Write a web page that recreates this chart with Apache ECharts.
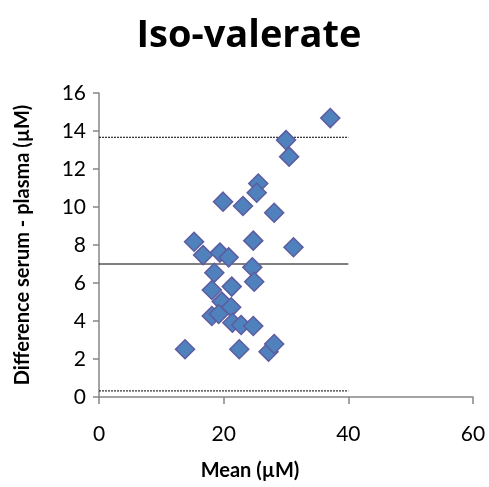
<!DOCTYPE html>
<html><head><meta charset="utf-8">
<script src="https://cdn.jsdelivr.net/npm/echarts@6/dist/echarts.min.js"></script>
<style>html,body{margin:0;padding:0;background:#fff}#c{width:489px;height:487px}</style>
</head><body><div id="c"></div>
<script>
const meanX = [37.1, 30.0, 30.5, 25.55, 25.3, 19.9, 23.1, 28.1,
  15.25, 24.75, 31.2, 16.7, 19.4, 20.8, 24.6, 18.5, 24.9, 18.1, 21.3, 19.7,
  21.2, 18.1, 19.2, 21.4, 22.8, 24.75, 13.8, 22.5, 27.2, 28.1];
const diffY = [14.68, 13.52, 12.65, 11.24, 10.75, 10.28, 10.05, 9.7,
  8.17, 8.23, 7.88, 7.47, 7.6, 7.35, 6.83, 6.54, 6.07, 5.63, 5.81, 5.02,
  4.72, 4.26, 4.37, 3.91, 3.79, 3.74, 2.51, 2.51, 2.38, 2.79];
const lineX = [0, 40];
const upperLimit = 13.67;
const meanDiff = 7.0;
const lowerLimit = 0.32;
const xTicks = [0, 20, 40, 60];
const yTicks = [0, 2, 4, 6, 8, 10, 12, 14, 16];

const font = 'Lato, "Open Sans", sans-serif';
const chart = echarts.init(document.getElementById('c'), null, {renderer: 'canvas'});
const hline = (v, type) => ({
  type: 'line', data: lineX.map(x => [x, v]), symbol: 'none', silent: true,
  lineStyle: {color: '#000', width: 1, type: type}, z: 1, animation: false
});
chart.setOption({
  animation: false,
  title: [
    {text: 'Iso-valerate', left: 244, top: 12, textAlign: 'center',
     textStyle: {fontFamily: '"Open Sans", sans-serif', fontWeight: 'bold', fontSize: 38, color: '#000'}},
    {text: 'Mean (\u00b5M)', left: 245, top: 456, textAlign: 'center',
     textStyle: {fontFamily: font, fontWeight: 'bold', fontSize: 20, color: '#000'}}
  ],
  grid: {left: 99, right: 16, top: 93, bottom: 90},
  xAxis: {
    type: 'value', min: xTicks[0], max: xTicks[xTicks.length - 1], interval: 20,
    axisLine: {show: true, lineStyle: {color: '#868686', width: 1.5}},
    axisTick: {show: true, inside: false, length: 7, lineStyle: {color: '#868686', width: 1.5}},
    axisLabel: {margin: 27, fontFamily: font, fontSize: 21, color: '#000'},
    splitLine: {show: false}
  },
  yAxis: {
    type: 'value', min: yTicks[0], max: yTicks[yTicks.length - 1], interval: 2,
    name: 'Difference serum - plasma (\u00b5M)', nameLocation: 'middle', nameRotate: 90, nameGap: 66,
    nameTextStyle: {fontFamily: font, fontWeight: 'bold', fontSize: 20, color: '#000'},
    axisLine: {show: true, lineStyle: {color: '#868686', width: 1.5}},
    axisTick: {show: true, inside: false, length: 6, lineStyle: {color: '#868686', width: 1.5}},
    axisLabel: {margin: 13, fontFamily: font, fontSize: 21, color: '#000'},
    splitLine: {show: false}
  },
  series: [
    hline(upperLimit, [2, 1]),
    hline(meanDiff, 'solid'),
    hline(lowerLimit, [2, 1]),
    {
      type: 'scatter', symbol: 'diamond', symbolSize: 19, z: 3,
      data: meanX.map((x, i) => [x, diffY[i]]),
      itemStyle: {color: '#4F81BD', borderColor: '#5E5CA0', borderWidth: 1.5, opacity: 1}
    }
  ]
});
</script></body></html>
